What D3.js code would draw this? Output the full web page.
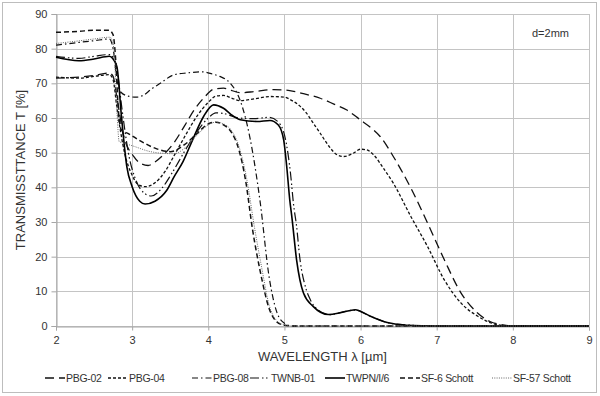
<!DOCTYPE html>
<html>
<head>
<meta charset="utf-8">
<script src="https://cdn.jsdelivr.net/npm/d3@7"></script>
<style>
    html, body { margin: 0; padding: 0; background: #fff; }
    text { font-family: Arial, "Liberation Sans", sans-serif; fill: #333; }
</style>
</head>
<body>
<svg id="chart"></svg>
<script>
// wavelength [um] / transmittance [%]
const pbg02 = [[2,71.5],[2.3,71.8],[2.5,72.3],[2.7,73],[2.75,72],[2.8,66],[2.88,55.6],[3.02,48.9],[3.12,46.8],[3.21,46.3],[3.3,47.3],[3.43,49.8],[3.56,53.2],[3.69,57.8],[3.82,62.5],[3.95,66],[4.07,68.3],[4.2,68.6],[4.3,68],[4.42,67.3],[4.6,67.6],[4.86,68.2],[5.07,67.9],[5.25,67],[5.47,65.7],[5.65,64],[5.82,62.3],[6,59.4],[6.13,57.3],[6.26,54.6],[6.43,48.9],[6.66,39.8],[6.88,29.7],[7.1,19.1],[7.32,9.5],[7.54,3.7],[7.7,1.3],[7.85,0.4],[8,0],[9,0]];
const pbg04 = [[2,71.8],[2.3,71.5],[2.5,72],[2.7,72.5],[2.75,71],[2.8,63],[2.9,50],[3,43.5],[3.08,40.8],[3.17,40.2],[3.3,41.3],[3.43,44.5],[3.56,49.5],[3.7,55],[3.85,60.5],[4,64.5],[4.1,66.3],[4.2,66.5],[4.3,65.8],[4.42,65],[4.6,65.5],[4.81,66.2],[5,66],[5.1,65],[5.2,63.5],[5.29,61.4],[5.38,58.5],[5.47,55.6],[5.58,52],[5.69,49.4],[5.78,48.9],[5.9,49.8],[6,51],[6.08,50.8],[6.17,49.4],[6.3,45.5],[6.43,41.2],[6.66,31.6],[6.88,22.9],[7.1,13.3],[7.32,6.6],[7.54,2.8],[7.7,1],[7.85,0.2],[8,0],[9,0]];
const pbg08 = [[2,81],[2.3,81.8],[2.5,82.3],[2.7,82.8],[2.75,80],[2.8,71],[2.85,67.5],[2.95,66.3],[3.05,66],[3.15,66.6],[3.25,68.3],[3.37,70],[3.54,72.4],[3.72,73],[3.92,73.3],[4.05,72.7],[4.15,72],[4.29,70],[4.42,65],[4.55,54],[4.68,36],[4.8,14],[4.9,4],[5,0.8],[5.1,0],[9,0]];
const twnb01 = [[2,77.8],[2.3,77.2],[2.5,77.8],[2.7,78.3],[2.75,77.5],[2.8,74],[2.87,62],[2.95,50],[3.05,42],[3.15,38.5],[3.25,37.5],[3.4,40],[3.52,44],[3.7,50.8],[3.85,56],[4,60],[4.1,61.5],[4.2,61.3],[4.4,60],[4.6,59.8],[4.8,60.2],[4.95,58],[5.03,52],[5.08,44],[5.12,35],[5.16,28.7],[5.2,20],[5.28,11],[5.34,7.6],[5.45,4.5],[5.6,3.3],[5.8,4.2],[5.93,4.6],[6.13,2.8],[6.35,1],[6.6,0.3],[7,0],[9,0]];
const twpn = [[2,77.5],[2.3,76.5],[2.5,77],[2.7,77.8],[2.75,77],[2.8,74.8],[2.86,60.4],[2.93,46],[3,40.2],[3.1,36],[3.17,35.2],[3.3,36],[3.45,39],[3.55,43],[3.67,47.5],[3.8,54],[3.94,60.5],[4.07,63.8],[4.2,62.8],[4.3,61],[4.42,59.5],[4.64,59],[4.81,59.3],[4.92,58],[4.99,53.7],[5.03,46],[5.07,36.4],[5.1,31],[5.16,19],[5.25,9.5],[5.38,5.6],[5.58,3.3],[5.75,3.9],[5.93,4.7],[6,4.2],[6.13,2.8],[6.35,1],[6.6,0.2],[7,0],[9,0]];
const sf6 = [[2,84.7],[2.3,85],[2.5,85.3],[2.7,85.3],[2.75,84],[2.78,78],[2.82,62],[2.86,56.5],[2.95,55.5],[3.1,53.5],[3.3,51.3],[3.5,50.3],[3.7,52.5],[3.85,55.5],[4,58.3],[4.1,58.8],[4.2,58],[4.3,56],[4.4,51],[4.49,42],[4.58,28],[4.68,16],[4.8,5],[4.9,1.2],[5,0.2],[5.1,0],[9,0]];
const sf57 = [[2,81.5],[2.32,82.3],[2.5,82.8],[2.71,83.3],[2.76,80],[2.8,62],[2.83,53.2],[2.88,52.8],[3,52],[3.24,50.3],[3.41,49.8],[3.55,49.7],[3.7,51.5],[3.85,55],[4,58],[4.1,58.8],[4.2,58.3],[4.3,56.5],[4.4,52],[4.5,43],[4.61,28],[4.7,17],[4.8,6],[4.9,1.5],[5,0.3],[5.1,0],[9,0]];

const seriesNames = ['PBG-02', 'PBG-04', 'PBG-08', 'TWNB-01', 'TWPN/I/6', 'SF-6 Schott', 'SF-57 Schott'];
const seriesData = [pbg02, pbg04, pbg08, twnb01, twpn, sf6, sf57];
const xTicks = [2, 3, 4, 5, 6, 7, 8, 9];
const yTicks = [0, 10, 20, 30, 40, 50, 60, 70, 80, 90];

const styles = [
    { dash: '9,5', width: 1.3, color: '#111' },
    { dash: '3,2', width: 1.3, color: '#111' },
    { dash: '6,3,1.5,3', width: 1.2, color: '#111' },
    { dash: '9,3,1.5,2.5,1.5,3', width: 1.2, color: '#111' },
    { dash: null, width: 1.6, color: '#000' },
    { dash: '5,3', width: 1.5, color: '#111' },
    { dash: '1,1.3', width: 1, color: '#666' }
];
const legendX = [45, 108, 192, 250, 325, 400, 492];

const width = 600, height = 396;
const margin = { top: 14, right: 11, bottom: 70, left: 56 };

const svg = d3.select('#chart')
        .attr('width', width)
        .attr('height', height);

svg.append('rect')
    .attr('x', 2.5).attr('y', 2.5)
    .attr('width', 594).attr('height', 390)
    .attr('fill', '#fff')
    .attr('stroke', '#bdbdbd');

const x = d3.scaleLinear()
    .domain([2, 9])
    .range([margin.left, width - margin.right]);

const y = d3.scaleLinear()
    .domain([0, 90])
    .range([height - margin.bottom, margin.top]);

// grid
svg.append('g')
    .selectAll('line')
    .data(yTicks)
    .join('line')
        .attr('x1', x(2)).attr('x2', x(9))
        .attr('y1', d => Math.round(y(d)) + 0.5)
        .attr('y2', d => Math.round(y(d)) + 0.5)
        .attr('stroke', '#c4c4c4');

svg.append('g')
    .selectAll('line')
    .data(xTicks)
    .join('line')
        .attr('x1', d => Math.round(x(d)) + 0.5)
        .attr('x2', d => Math.round(x(d)) + 0.5)
        .attr('y1', y(90)).attr('y2', y(0))
        .attr('stroke', '#c4c4c4');

// axes
const xAxis = svg.append('g')
    .attr('transform', `translate(0, ${Math.round(y(0)) + 0.5})`)
    .call(d3.axisBottom(x).tickValues(xTicks).tickSize(4).tickPadding(6).tickFormat(d3.format('d')));

const yAxis = svg.append('g')
    .attr('transform', `translate(${Math.round(x(2)) + 0.5}, 0)`)
    .call(d3.axisLeft(y).tickValues(yTicks).tickSize(5).tickPadding(4));

[xAxis, yAxis].forEach(a => {
    a.select('.domain').attr('stroke', '#a6a6a6');
    a.selectAll('.tick line').attr('stroke', '#a6a6a6');
    a.selectAll('.tick text')
        .attr('font-size', 11)
        .attr('fill', '#333')
        .style('font-family', 'Arial, "Liberation Sans", sans-serif');
});

// curves
const line = d3.line()
    .x(d => x(d[0]))
    .y(d => y(d[1]))
    .curve(d3.curveMonotoneX);

svg.append('g')
    .selectAll('path')
    .data(seriesData)
    .join('path')
        .attr('d', line)
        .attr('fill', 'none')
        .attr('stroke', (d, i) => styles[i].color)
        .attr('stroke-width', (d, i) => styles[i].width)
        .attr('stroke-dasharray', (d, i) => styles[i].dash);

// labels
svg.append('text')
    .attr('x', 532).attr('y', 37)
    .attr('font-size', 11)
    .text('d=2mm');

svg.append('text')
    .attr('x', (x(2) + x(9)) / 2).attr('y', 361)
    .attr('text-anchor', 'middle')
    .attr('font-size', 13)
    .text('WAVELENGTH  λ [µm]');

svg.append('text')
    .attr('transform', `translate(25, ${(y(0) + y(90)) / 2}) rotate(-90)`)
    .attr('text-anchor', 'middle')
    .attr('font-size', 13)
    .text('TRANSMISSTTANCE  T [%]');

// legend
const legend = svg.append('g')
    .selectAll('g')
    .data(seriesNames)
    .join('g')
        .attr('transform', (d, i) => `translate(${legendX[i]}, 378)`);

legend.append('line')
    .attr('x1', 0).attr('x2', 20)
    .attr('y1', 0).attr('y2', 0)
    .attr('stroke', (d, i) => styles[i].color)
    .attr('stroke-width', (d, i) => styles[i].width)
    .attr('stroke-dasharray', (d, i) => styles[i].dash);

legend.append('text')
    .attr('x', 21).attr('y', 4)
    .attr('font-size', 10.5)
    .attr('letter-spacing', -0.3)
    .text(d => d);
</script>
</body>
</html>
